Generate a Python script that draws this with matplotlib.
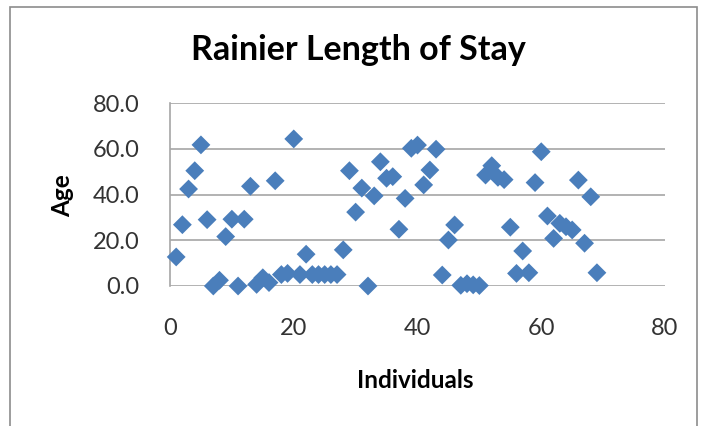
import matplotlib
matplotlib.use("Agg")
import matplotlib.pyplot as plt
from matplotlib.patches import Rectangle

# individual number and age
individuals = list(range(1, 70))
ages = [12.7, 26.8, 42.4, 50.4, 61.7, 29.0, 0.0, 2.5, 21.6, 29.2,
        0.0, 29.2, 43.6, 0.7, 3.6, 1.5, 46.0, 5.0, 5.5, 64.3,
        5.0, 13.9, 5.0, 5.0, 5.0, 5.0, 5.0, 15.8, 50.4, 32.3,
        42.8, 0.0, 39.4, 54.3, 47.1, 47.8, 24.8, 38.3, 60.2, 61.6,
        44.2, 50.7, 59.8, 4.8, 20.1, 26.7, 0.3, 1.0, 0.5, 0.2,
        48.5, 52.6, 47.5, 46.5, 25.7, 5.5, 15.3, 5.8, 45.2, 58.7,
        30.6, 20.8, 27.4, 25.9, 24.5, 46.3, 18.7, 39.0, 5.8]

x_ticks = [0, 20, 40, 60, 80]
y_ticks = [0, 20, 40, 60, 80]

plt.rcParams['font.family'] = ['Lato', 'DejaVu Sans']

fig = plt.figure(figsize=(7.08, 4.26), dpi=100)
fig.patch.set_facecolor('white')

# chart area border
fig.patches.append(Rectangle((10 / 708, -0.1), 687 / 708, 1.1 - 7 / 426,
                             transform=fig.transFigure, fill=False,
                             edgecolor='#8c8c8c', linewidth=1.2))

ax = fig.add_axes([170 / 708, 1 - 286 / 426, 495 / 708, 183 / 426])
ax.scatter(individuals, ages, marker='D', s=92, color='#4a7ebb',
           edgecolors='none', zorder=3, clip_on=False)

ax.set_xlim(0, 80)
ax.set_ylim(0, 80)
ax.set_xticks(x_ticks)
ax.set_yticks(y_ticks)
ax.set_yticklabels(['{:.1f}'.format(v) for v in y_ticks])
ax.grid(axis='y', color='#a6a6a6', linewidth=1.2)
ax.set_axisbelow(True)
for s in ['top', 'right', 'bottom']:
    ax.spines[s].set_visible(False)
ax.spines['left'].set_color('#a6a6a6')
ax.spines['left'].set_linewidth(1.2)
ax.tick_params(axis='both', length=0, labelsize=17, colors='#333333')
ax.tick_params(axis='x', pad=23)
ax.tick_params(axis='y', pad=22)

fig.text(358 / 708, 1 - 50 / 426, 'Rainier Length of Stay', ha='center',
         va='center', fontsize=24.5, fontweight='bold')
fig.text(415 / 708, 1 - 380 / 426, 'Individuals', ha='center', va='center',
         fontsize=17.5, fontweight='bold')
fig.text(63 / 708, 1 - 196 / 426, 'Age', ha='center', va='center',
         rotation=90, fontsize=17.5, fontweight='bold')

fig.savefig('out.png', dpi=100)
